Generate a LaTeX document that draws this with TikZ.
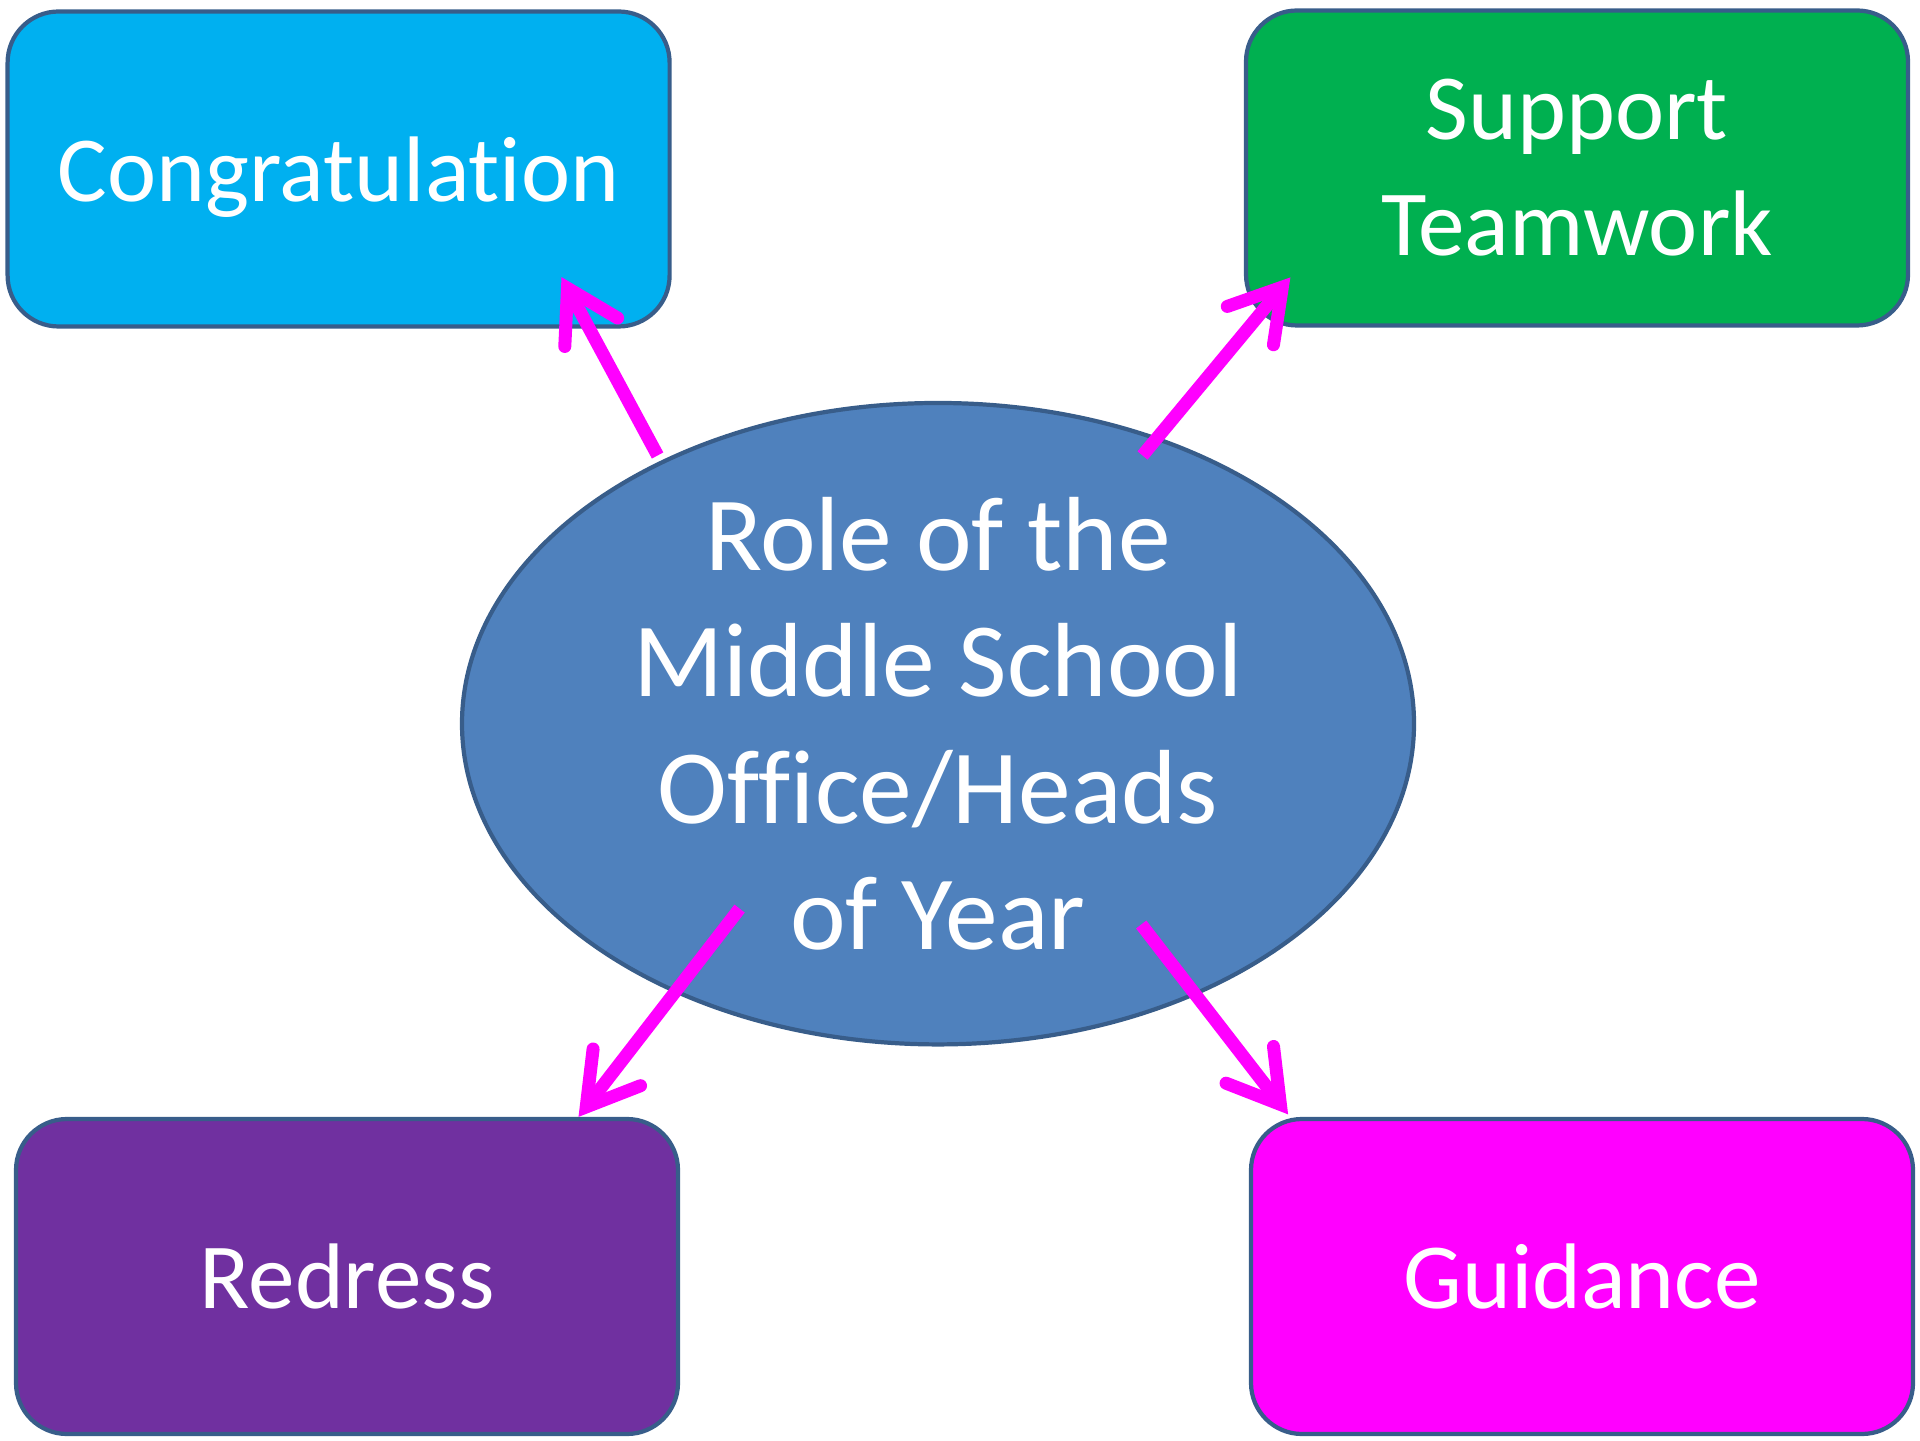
\documentclass[tikz,border=0pt]{standalone}
\usepackage{fontspec}
\setmainfont{Carlito}[Ligatures=NoCommon]
\usepackage{tikz}
\usetikzlibrary{shapes.geometric,arrows.meta}
\definecolor{edgeblue}{HTML}{385D8A}
\definecolor{congblue}{HTML}{00B0F0}
\definecolor{suppgreen}{HTML}{00B050}
\definecolor{redrpurple}{HTML}{7030A0}
\definecolor{guidpink}{HTML}{FF00FF}
\definecolor{roleblue}{HTML}{4F81BD}

\begin{document}
\begin{tikzpicture}[
	box/.style={draw=edgeblue, line width=1.2pt, rounded corners=0.51cm, minimum width=6.62cm, minimum height=3.15cm, inner sep=0pt, text=white, align=center, font=\fontsize{26.5}{33}\selectfont},
	flow/.style={draw=guidpink, line width=0.13cm, -{Straight Barb[length=0.5cm, width=0.6cm, line cap=round]}}
	]
	
	\useasboundingbox (0,0) rectangle (19.2,14.4);
	
	\node[box, fill=congblue, text depth=0pt] (cong) at (3.386,12.71) {Congratulation};
	\node[box, fill=suppgreen] (supp) at (15.77,12.72) {Support\\Teamwork};
	\node[box, fill=redrpurple] (redr) at (3.47,1.635) {Redress};
	\node[box, fill=guidpink] (guid) at (15.82,1.635) {Guidance};
	\node[ellipse, draw=edgeblue, line width=1.2pt, fill=roleblue, minimum width=9.52cm, minimum height=6.33cm, inner sep=0pt, text=white, align=center, font=\fontsize{30}{36}\selectfont] (role) at (9.38,7.163) {Role of the\\Middle School\\Office/Heads\\of Year};
	
	\draw[flow] ([shift={(-2.804,2.682)}]role.center) -- ([shift={(-1.102,0.515)}]cong.south east);
	\draw[flow] ([shift={(2.045,2.682)}]role.center) -- ([shift={(0.465,0.502)}]supp.south west);
	\draw[flow] ([shift={(-1.984,-1.849)}]role.center) -- ([xshift=-1.016cm]redr.north east);
	\draw[flow] ([shift={(2.032,-2.008)}]role.center) -- ([shift={(0.392,0.025)}]guid.north west);
\end{tikzpicture}
\end{document}
